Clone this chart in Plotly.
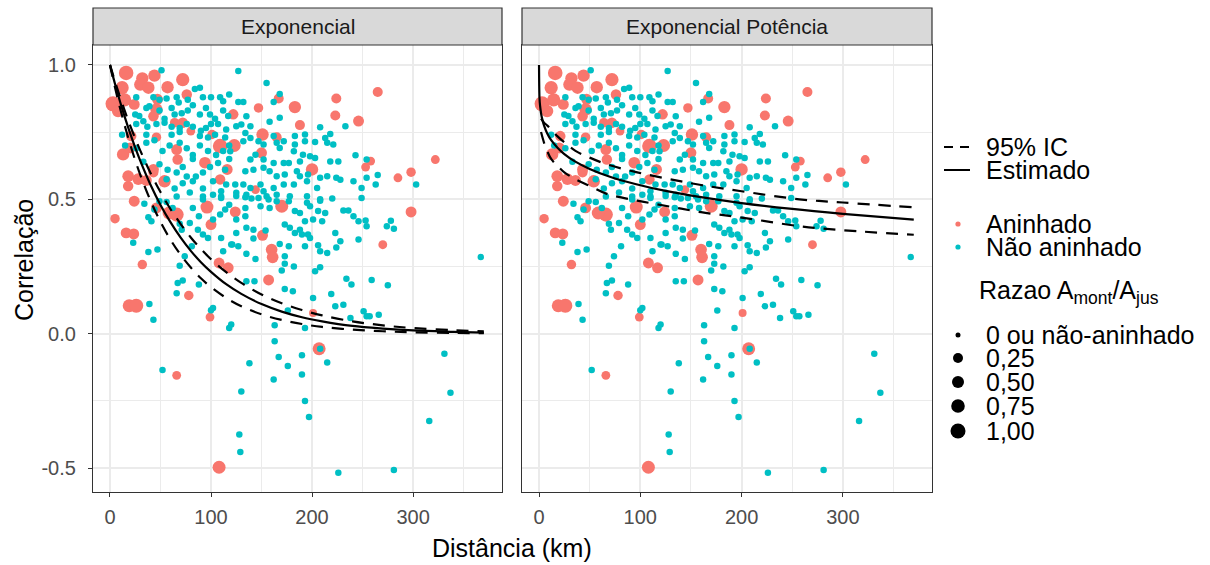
import plotly.graph_objects as go
import numpy as np

# ---------------- data ----------------
# Nested pairs (Aninhado): distance (km), correlation, area ratio A_mont/A_jus
dist_aninhado = [16, 32, 44, 72, 12, 30, 38, 57, 3, 14.5, 24, 8, 47, 76, 46, 43, 64, 72, 80, 46,
                 21, 109, 101, 122, 66, 67, 94, 13, 43, 54, 18, 109, 123, 116, 147, 167, 183, 188, 224, 223,
                 246, 151, 165, 150, 200, 253, 144, 265, 322, 298, 285, 258, 24, 5, 16, 23.5, 32, 19, 26, 78,
                 99, 96, 100, 108, 117, 66, 58.5, 46, 170, 124, 151, 160, 161, 157, 201, 207, 298, 270, 66, 108,
                 20, 18, 28, 36, 43]
cor_aninhado = [0.97, 0.95, 0.96, 0.945, 0.915, 0.927, 0.915, 0.917, 0.855, 0.87, 0.853, 0.828, 0.872, 0.89, 0.834, 0.809, 0.785, 0.785, 0.754, 0.731,
                0.735, 0.698, 0.741, 0.816, 0.685, 0.648, 0.636, 0.667, 0.611, 0.567, 0.549, 0.574, 0.70, 0.611, 0.84, 0.875, 0.843, 0.776, 0.875, 0.812,
                0.791, 0.741, 0.731, 0.673, 0.611, 0.62, 0.536, 0.899, 0.648, 0.601, 0.58, 0.642, 0.493, 0.428, 0.375, 0.371, 0.257, 0.104, 0.104, 0.142,
                0.062, 0.471, 0.406, 0.263, 0.245, 0.443, 0.449, 0.468, 0.474, 0.453, 0.366, 0.313, 0.284, 0.20, 0.077, -0.056, 0.453, 0.331, -0.155, -0.497,
                0.691, 0.586, 0.575, 0.57, 0.60]
razao_aninhado = [0.9, 0.5, 0.5, 0.65, 0.65, 0.5, 0.5, 0.5, 1.0, 0.65, 0.3, 0.5, 0.3, 0.25, 0.5, 0.25, 0.15, 0.25, 0.1, 0.15,
                  0.25, 0.9, 0.15, 0.25, 0.3, 0.25, 0.4, 0.5, 0.3, 0.5, 0.25, 0.25, 0.6, 0.3, 0.15, 0.2, 0.5, 0.2, 0.2, 0.2,
                  0.3, 0.5, 0.2, 0.3, 0.5, 0.1, 0.1, 0.2, 0.1, 0.15, 0.1, 0.1, 0.3, 0.15, 0.3, 0.3, 0.15, 0.6, 0.8, 0.15,
                  0.1, 0.6, 0.3, 0.3, 0.3, 0.8, 0.6, 0.3, 0.6, 0.3, 0.3, 0.4, 0.4, 0.3, 0.05, 0.6, 0.3, 0.1, 0.1, 0.6,
                  0.3, 0.4, 0.4, 0.3, 0.2]

# Non-nested pairs (Não aninhado)
dist_nao = [51, 26, 43, 49, 56, 66, 68, 77, 84, 89, 92, 100, 109, 112, 118,
            25, 29, 36, 39, 49, 54, 61, 64, 71, 77, 82, 89, 95, 99, 104, 112, 117,
            26, 33, 37, 46, 54, 61, 69, 76, 82, 90, 95, 100, 107, 115,
            36, 44, 61, 69, 89, 97, 104, 114,
            36, 52, 59, 69, 76, 82, 89, 97, 105, 112, 118, 26,
            33, 49, 57, 66, 72, 82, 92, 99, 107, 114, 118,
            76, 85, 56, 64, 72, 82, 92, 102, 110, 115,
            66, 79, 92, 102, 110, 12, 15,
            127, 155, 168, 162, 127, 132, 168, 158, 135, 125, 130, 139, 134, 139, 132, 119, 183, 193, 208, 218,
            213, 215, 221, 233, 203, 193, 183, 182, 172, 168, 162, 165, 152, 147, 144, 152, 162, 172, 177, 188,
            191, 198, 203, 218, 226, 243, 254, 139, 134, 142, 152, 158, 165, 173, 185, 188, 196, 208, 215, 224,
            228, 241, 254, 124, 132, 139, 149, 152, 162, 172, 182, 195, 205, 125, 135, 155, 165, 178, 195, 208, 249,
            265, 263, 303,
            34, 38, 41, 44, 49, 56, 62, 69, 71, 79, 88, 87, 92, 97, 102, 109, 114, 118, 110, 112,
            120, 23, 38, 47, 69, 81, 67, 72, 88, 66, 39, 43, 100, 102, 118, 120, 74, 82, 92, 110,
            125, 134, 140, 147, 157, 165, 177, 195, 208, 220, 231, 236, 241, 246, 253, 249, 134, 149, 158, 183,
            188, 198, 206, 213, 210, 201, 193, 134, 125, 135, 142, 154, 173, 178, 183, 188, 190, 196, 198, 223,
            125, 142, 168, 121, 127, 177, 193, 206, 208, 215, 224, 228, 246, 135, 173, 144, 173, 182, 170, 203,
            208, 234, 239, 135, 143, 173, 181, 201, 219, 223, 231, 251, 257, 176, 163, 238, 193, 163, 208,
            278, 274, 281, 254, 367, 259, 275, 254, 266, 331,
            52, 138, 167, 190, 176, 215, 190, 162, 130, 193, 197, 128, 129, 226, 337, 316, 281]
cor_nao = [0.98, 0.88, 0.88, 0.87, 0.875, 0.88, 0.86, 0.87, 0.91, 0.915, 0.88, 0.88, 0.88, 0.865, 0.89,
           0.815, 0.81, 0.84, 0.846, 0.83, 0.80, 0.84, 0.815, 0.82, 0.83, 0.85, 0.815, 0.84, 0.815, 0.80, 0.83, 0.81,
           0.78, 0.79, 0.77, 0.78, 0.785, 0.77, 0.765, 0.78, 0.77, 0.755, 0.765, 0.78, 0.78, 0.76,
           0.74, 0.72, 0.74, 0.75, 0.735, 0.73, 0.74, 0.73,
           0.71, 0.68, 0.70, 0.71, 0.69, 0.665, 0.70, 0.68, 0.665, 0.68, 0.70, 0.69,
           0.64, 0.63, 0.61, 0.60, 0.62, 0.65, 0.60, 0.62, 0.635, 0.61, 0.65,
           0.585, 0.585, 0.575, 0.54, 0.56, 0.567, 0.54, 0.567, 0.53, 0.555,
           0.51, 0.525, 0.51, 0.517, 0.51, 0.74, 0.70,
           0.977, 0.933, 0.892, 0.862, 0.862, 0.862, 0.803, 0.788, 0.809, 0.772, 0.778, 0.772, 0.747, 0.728, 0.716, 0.679, 0.735, 0.741, 0.768, 0.743,
           0.728, 0.71, 0.704, 0.772, 0.713, 0.716, 0.704, 0.679, 0.716, 0.691, 0.735, 0.71, 0.704, 0.716, 0.666, 0.648, 0.635, 0.635, 0.635, 0.641,
           0.666, 0.66, 0.654, 0.641, 0.641, 0.664, 0.648, 0.648, 0.604, 0.61, 0.617, 0.604, 0.586, 0.592, 0.604, 0.586, 0.592, 0.58, 0.586, 0.58,
           0.573, 0.567, 0.58, 0.555, 0.555, 0.542, 0.555, 0.53, 0.542, 0.555, 0.555, 0.567, 0.542, 0.524, 0.517, 0.511, 0.517, 0.511, 0.511, 0.50, 0.542,
           0.59, 0.555, 0.555,
           0.483, 0.433, 0.418, 0.462, 0.493, 0.49, 0.468, 0.409, 0.387, 0.412, 0.437, 0.387, 0.369, 0.356, 0.425, 0.443, 0.462, 0.48, 0.356, 0.307,
           0.332, 0.338, 0.304, 0.313, 0.253, 0.325, 0.189, 0.198, 0.183, 0.150, 0.11, 0.052, 0.087, 0.096, 0.021, 0.034, 0.288, 0.468, 0.499, 0.505,
           0.512, 0.508, 0.503, 0.505, 0.499, 0.493, 0.493, 0.487, 0.495, 0.503, 0.458, 0.458, 0.437, 0.418, 0.421, 0.505, 0.468, 0.474, 0.468, 0.456,
           0.449, 0.474, 0.456, 0.449, 0.418, 0.425, 0.418, 0.437, 0.425, 0.394, 0.387, 0.384, 0.406, 0.394, 0.375, 0.387, 0.369, 0.369, 0.356, 0.375,
           0.375, 0.354, 0.334, 0.332, 0.325, 0.325, 0.325, 0.329, 0.307, 0.30, 0.321, 0.344, 0.35, 0.297, 0.288, 0.278, 0.26, 0.25, 0.235, 0.232,
           0.247, 0.204, 0.183, 0.195, 0.195, 0.166, 0.158, 0.133, 0.148, 0.102, 0.108, 0.083, 0.065, 0.086, 0.031, 0.058, 0.021, -0.028, -0.056,
           0.42, 0.40, 0.39, 0.40, 0.285, 0.20, 0.18, 0.065, 0.07, -0.075,
           -0.135, -0.11, -0.087, -0.08, -0.12, -0.107, -0.152, -0.17, -0.215, -0.25, -0.31, -0.375, -0.44, -0.517, -0.22, -0.325, -0.507]

# Fitted curves – Exponencial panel
curve_dist_exp = [0, 5, 10, 15, 20, 25, 30, 40, 50, 60, 70, 80, 90, 100, 115, 130, 150, 170, 190, 210, 240, 270, 300, 340, 370]
exp_estimado = [1.0, 0.929, 0.863, 0.802, 0.745, 0.692, 0.643, 0.555, 0.479, 0.414, 0.357, 0.308, 0.266, 0.230, 0.184, 0.148,
                0.110, 0.082, 0.061, 0.046, 0.029, 0.019, 0.012, 0.007, 0.004]
exp_ic_sup = [1.0, 0.938, 0.880, 0.825, 0.774, 0.726, 0.681, 0.599, 0.527, 0.463, 0.408, 0.358, 0.315, 0.277, 0.229, 0.189,
              0.146, 0.113, 0.088, 0.068, 0.046, 0.031, 0.021, 0.013, 0.009]
exp_ic_inf = [1.0, 0.916, 0.839, 0.769, 0.704, 0.645, 0.591, 0.496, 0.416, 0.349, 0.293, 0.246, 0.206, 0.173, 0.133, 0.102,
              0.072, 0.051, 0.036, 0.025, 0.015, 0.009, 0.005, 0.003, 0.002]

# Fitted curves – Exponencial Potência panel
curve_dist_pow = [0, 0.5, 1, 2, 3, 5, 8, 12, 18, 25, 35, 50, 70, 95, 125, 160, 200, 250, 300, 370]
pow_estimado = [1.0, 0.874, 0.849, 0.820, 0.801, 0.774, 0.746, 0.720, 0.693, 0.668, 0.642, 0.613, 0.584, 0.557, 0.531,
                0.508, 0.486, 0.464, 0.446, 0.424]
ic_dist_pow = [2, 5, 8, 12, 18, 25, 36, 50, 67, 97, 129, 160, 200, 257, 300, 370]
pow_ic_sup = [0.80, 0.785, 0.775, 0.76, 0.735, 0.712, 0.68, 0.655, 0.63, 0.60, 0.575, 0.553, 0.53, 0.50, 0.488, 0.47]
pow_ic_inf = [0.75, 0.71, 0.68, 0.65, 0.625, 0.60, 0.575, 0.55, 0.52, 0.495, 0.473, 0.452, 0.432, 0.40, 0.385, 0.368]

panel_titles = ["Exponencial", "Exponencial Potência"]
x_ticks = [0, 100, 200, 300]
y_ticks = [-0.5, 0.0, 0.5, 1.0]
y_tick_labels = ["-0.5", "0.0", "0.5", "1.0"]
size_legend_labels = ["0 ou não-aninhado", "0,25", "0,50", "0,75", "1,00"]

# ---------------- styling ----------------
RED = "#F8766D"
TEAL = "#00BFC4"
FONT = "Liberation Sans, Arial, sans-serif"
W, H = 1210, 565
ML, MR, MT, MB = 93, 278, 45, 73
PW, PH = W - ML - MR, H - MT - MB
TICK_SIZE = 20
STRIP_SIZE = 21
TITLE_SIZE = 25
LEG_SIZE = 25


def px2paper_x(px):
    return (px - ML) / PW


def px2paper_y(py):
    return (H - MB - py) / PH


def ratio_to_size(r):
    return 6 + 9 * np.sqrt(np.asarray(r, dtype=float))


fig = go.Figure()

axes = [("x", "y"), ("x2", "y2")]
curves = [
    (curve_dist_exp, exp_estimado, curve_dist_exp, exp_ic_sup, exp_ic_inf),
    (curve_dist_pow, pow_estimado, ic_dist_pow, pow_ic_sup, pow_ic_inf),
]

for (xa, ya), (cx, cy, icx, icu, icl) in zip(axes, curves):
    fig.add_trace(go.Scatter(x=dist_aninhado, y=cor_aninhado, mode="markers", xaxis=xa, yaxis=ya,
                             marker=dict(color=RED, size=ratio_to_size(razao_aninhado), opacity=1,
                                         line=dict(width=0)),
                             showlegend=False, hoverinfo="skip"))
    fig.add_trace(go.Scatter(x=dist_nao, y=cor_nao, mode="markers", xaxis=xa, yaxis=ya,
                             marker=dict(color=TEAL, size=6.5, line=dict(width=0)),
                             showlegend=False, hoverinfo="skip"))
    for yy in (icu, icl):
        fig.add_trace(go.Scatter(x=icx, y=yy, mode="lines", xaxis=xa, yaxis=ya,
                                 line=dict(color="black", width=2.2, dash="12px,9px", shape="spline"),
                                 showlegend=False, hoverinfo="skip"))
    fig.add_trace(go.Scatter(x=cx, y=cy, mode="lines", xaxis=xa, yaxis=ya,
                             line=dict(color="black", width=2.2, shape="spline"),
                             showlegend=False, hoverinfo="skip"))

dom1 = [0, px2paper_x(502)]
dom2 = [px2paper_x(522), 1]
xcommon = dict(range=[-16.8, 388], tickvals=x_ticks, ticks="outside", ticklen=4, tickwidth=1.1,
               tickcolor="#333333", showline=True, mirror=True, linecolor="#333333", linewidth=1.2,
               showgrid=True, gridcolor="#EBEBEB", gridwidth=1.6, zeroline=False,
               minor=dict(tickvals=[50, 150, 250, 350], showgrid=True, gridcolor="#EBEBEB", gridwidth=0.8, ticks=""),
               tickfont=dict(family=FONT, size=TICK_SIZE, color="#4D4D4D"), ticklabelstandoff=3, fixedrange=True)
ycommon = dict(range=[-0.589, 1.074], tickvals=y_ticks, ticktext=y_tick_labels, showline=True, mirror=True,
               linecolor="#333333", linewidth=1.2, showgrid=True, gridcolor="#EBEBEB", gridwidth=1.6,
               zeroline=False,
               minor=dict(tickvals=[-0.25, 0.25, 0.75], showgrid=True, gridcolor="#EBEBEB", gridwidth=0.8, ticks=""),
               tickfont=dict(family=FONT, size=TICK_SIZE, color="#4D4D4D"), fixedrange=True)

fig.update_layout(
    width=W, height=H, margin=dict(l=ML, r=MR, t=MT, b=MB),
    paper_bgcolor="white", plot_bgcolor="white", showlegend=False,
    font=dict(family=FONT, color="black"),
    xaxis=dict(domain=dom1, anchor="y", **xcommon),
    xaxis2=dict(domain=dom2, anchor="y2", **xcommon),
    yaxis=dict(domain=[0, 1], anchor="x", ticks="outside", ticklen=4, tickwidth=1.1, tickcolor="#333333",
               ticklabelstandoff=8, **ycommon),
    yaxis2=dict(domain=[0, 1], anchor="x2", matches="y", showticklabels=False, ticks="", **ycommon),
)

shapes = []
annotations = []
# facet strips
strip_top = px2paper_y(8)
for xa, title in zip(["x", "x2"], panel_titles):
    shapes.append(dict(type="rect", xref=f"{xa} domain", yref="paper", x0=0, x1=1, y0=1.0, y1=strip_top,
                       fillcolor="#D9D9D9", line=dict(color="#333333", width=1.2), layer="above"))
    annotations.append(dict(xref=f"{xa} domain", yref="paper", x=0.5, y=(1.0 + strip_top) / 2, text=title,
                            showarrow=False, font=dict(family=FONT, size=STRIP_SIZE, color="#1A1A1A"),
                            xanchor="center", yanchor="middle"))

# axis titles
annotations.append(dict(xref="paper", yref="paper", x=px2paper_x(512), y=px2paper_y(548),
                        text="Distância (km)", showarrow=False, font=dict(family=FONT, size=TITLE_SIZE, color="black"),
                        xanchor="center", yanchor="middle"))
annotations.append(dict(xref="paper", yref="paper", x=px2paper_x(24), y=px2paper_y(260),
                        text="Correlação", showarrow=False, textangle=-90,
                        font=dict(family=FONT, size=TITLE_SIZE, color="black"), xanchor="center", yanchor="middle"))

# legend (drawn manually, ggplot-style)
LEG_TXT = 985
leg_font = dict(family=FONT, size=LEG_SIZE, color="black")


def legend_text(label, px, py):
    return dict(xref="paper", yref="paper", x=px2paper_x(px), y=px2paper_y(py), text=label,
                showarrow=False, font=leg_font, xanchor="left", yanchor="middle", borderpad=0)


line_items = [("95% IC", "9px,7px", 147), ("Estimado", "solid", 170)]
for label, dash, py in line_items:
    shapes.append(dict(type="line", xref="paper", yref="paper", x0=px2paper_x(944), x1=px2paper_x(970),
                       y0=px2paper_y(py), y1=px2paper_y(py), line=dict(color="black", width=2.0, dash=dash)))
    annotations.append(legend_text(label, LEG_TXT, py))

color_items = [("Aninhado", RED, 224), ("Não aninhado", TEAL, 247)]
for label, col, py in color_items:
    shapes.append(dict(type="circle", xref="paper", yref="paper", xsizemode="pixel", ysizemode="pixel",
                       xanchor=px2paper_x(958), yanchor=px2paper_y(py), x0=-2.6, x1=2.6, y0=-2.6, y1=2.6,
                       fillcolor=col, line=dict(width=0)))
    annotations.append(legend_text(label, LEG_TXT, py))

annotations.append(legend_text("Razao A<sub>mont</sub>/A<sub>jus</sub>", 978, 292))
size_rows = [335, 358, 382, 406, 431]
legend_dot_sizes = [5, 10, 12, 13.6, 15]
for label, py, d in zip(size_legend_labels, size_rows, legend_dot_sizes):
    r = d / 2
    shapes.append(dict(type="circle", xref="paper", yref="paper", xsizemode="pixel", ysizemode="pixel",
                       xanchor=px2paper_x(958), yanchor=px2paper_y(py), x0=-r, x1=r, y0=-r, y1=r,
                       fillcolor="black", line=dict(width=0)))
    annotations.append(legend_text(label, LEG_TXT, py))

fig.update_layout(shapes=shapes, annotations=annotations)
fig.write_html("out.html")
